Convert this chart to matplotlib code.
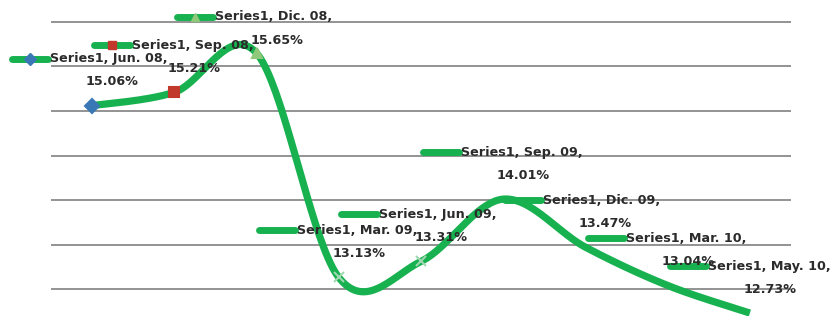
import numpy as np
import matplotlib
matplotlib.use("Agg")
import matplotlib.pyplot as plt
from matplotlib.lines import Line2D
from matplotlib.transforms import Affine2D, ScaledTranslation

# data
series_name = "Series1"
categories = ["Jun. 08", "Sep. 08", "Dic. 08", "Mar. 09", "Jun. 09",
              "Sep. 09", "Dic. 09", "Mar. 10", "May. 10"]
values = [15.06, 15.21, 15.65, 13.13, 13.31, 14.01, 13.47, 13.04, 12.73]
grid_values = [13.0, 13.5, 14.0, 14.5, 15.0, 15.5, 16.0]

# point markers (excel style, mostly hidden by the thick line)
markers = ["D", "s", "^", "x", "x", None, None, None, None]
marker_colors = ["#3a78b5", "#c0392b", "#8fc87a", "#9fd8b0", "#9fd8b0",
                 None, None, None, None]

line_color = "#17b150"
text_color = "#2b2b2b"


def smooth(y, n=40):
    # excel-like smoothed line (catmull-rom as cubic bezier)
    y = np.asarray(y, float)
    x = np.arange(len(y), dtype=float)
    pts = np.column_stack([x, y])
    out = []
    for i in range(len(pts) - 1):
        p0 = pts[i]
        p3 = pts[i + 1]
        pm = pts[i - 1] if i > 0 else pts[i]
        pp = pts[i + 2] if i + 2 < len(pts) else pts[i + 1]
        p1 = p0 + (p3 - pm) / 6.0
        p2 = p3 - (pp - p0) / 6.0
        t = np.linspace(0, 1, n)[:, None]
        seg = ((1 - t) ** 3) * p0 + 3 * ((1 - t) ** 2) * t * p1 \
            + 3 * (1 - t) * t ** 2 * p2 + t ** 3 * p3
        out.append(seg if i == 0 else seg[1:])
    out = np.vstack(out)
    return out[:, 0], out[:, 1]


fig = plt.figure(figsize=(8.3, 3.16), dpi=100)
ax = fig.add_axes([51 / 830, 0, 740 / 830, 1])
ax.set_xlim(-0.5, len(categories) - 0.5)
ax.set_ylim(12.697, 16.247)

for spine in ax.spines.values():
    spine.set_visible(False)
ax.set_xticks([])
ax.set_yticks(grid_values)
ax.tick_params(length=0, labelleft=False)
ax.yaxis.grid(True, color="#8a8a8a", linewidth=1.3)
ax.set_axisbelow(True)

sx, sy = smooth(values)
ax.plot(sx, sy, color=line_color, linewidth=5.2, solid_capstyle="butt", zorder=3)

for i, v in enumerate(values):
    if markers[i]:
        ax.plot(i, v, marker=markers[i], color=marker_colors[i],
                markersize=7, markeredgewidth=1.5, linestyle="none", zorder=4)

# data labels: legend key + "Series1, Cat," + value
font = dict(family="DejaVu Sans", weight="bold", size=9.2, color=text_color)
fig_h = fig.get_size_inches()[1] * fig.dpi
for i, v in enumerate(values):
    px, py = ax.transData.transform((i, v))
    from_top = fig_h - py
    dy = min(47, from_top - 17)
    base = ScaledTranslation(i, v, ax.transData)
    key = Line2D([-80, -44], [dy, dy], color=line_color, linewidth=5,
                 solid_capstyle="round", transform=Affine2D() + base, zorder=5)
    ax.add_line(key)
    key.set_clip_on(False)
    if markers[i] and i < 3:
        mk = Line2D([-62], [dy], marker=markers[i], color=marker_colors[i],
                    markersize=6, transform=Affine2D() + base, zorder=6)
        mk.set_clip_on(False)
        ax.add_line(mk)
    ax.annotate(f"{series_name}, {categories[i]},", xy=(i, v),
                xytext=(-42, dy), textcoords="offset pixels",
                ha="left", va="center", zorder=6, **font)
    ax.annotate(f"{v:.2f}%", xy=(i, v), xytext=(20, dy - 23),
                textcoords="offset pixels", ha="center", va="center",
                zorder=6, **font)

fig.savefig("out.png", dpi=100)
